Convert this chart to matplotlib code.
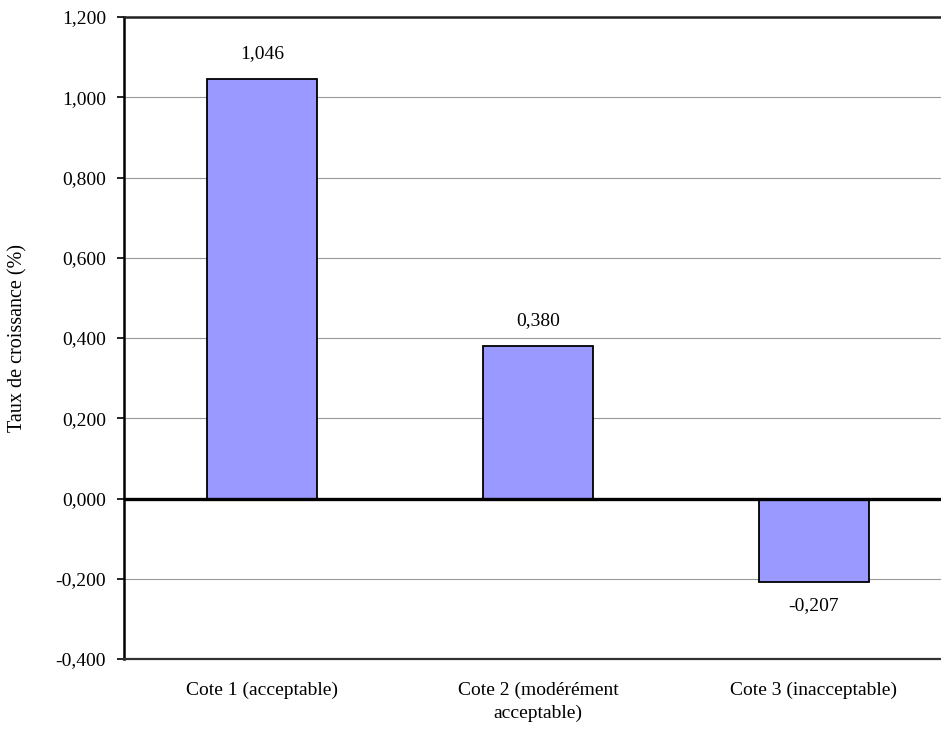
import matplotlib.pyplot as plt
from matplotlib.ticker import FuncFormatter

categories = ['Cote 1 (acceptable)', 'Cote 2 (modérément\nacceptable)', 'Cote 3 (inacceptable)']
taux = [1.046, 0.380, -0.207]
y_ticks = [-0.4, -0.2, 0.0, 0.2, 0.4, 0.6, 0.8, 1.0, 1.2]

plt.rcParams['font.family'] = ['Liberation Serif', 'DejaVu Serif']

def virgule(v, pos=None):
    return '{:.3f}'.format(v).replace('.', ',')

fig = plt.figure(figsize=(9.41, 7.33), dpi=100)
ax = fig.add_axes([124 / 941, 74 / 733, 828 / 941, 642 / 733])

x = range(len(categories))
ax.bar(x, taux, width=0.4, color='#9999ff', edgecolor='black', linewidth=1.3, zorder=3)

for i, v in enumerate(taux):
    if v >= 0:
        ax.annotate(virgule(v), (i, v), xytext=(0, 12), textcoords='offset points',
                    ha='center', va='bottom', fontsize=14)
    else:
        ax.annotate(virgule(v), (i, v), xytext=(0, -11), textcoords='offset points',
                    ha='center', va='top', fontsize=14)

ax.axhline(0, color='black', linewidth=2.4, zorder=4)
ax.set_xlim(-0.5, 2.5)
ax.set_ylim(-0.4, 1.2)
ax.set_yticks(y_ticks)
ax.yaxis.set_major_formatter(FuncFormatter(virgule))
ax.yaxis.grid(True, color='#999999', linewidth=0.8, zorder=0)
ax.set_xticks(list(x))
ax.set_xticklabels(categories, fontsize=14, linespacing=1.5)
ax.tick_params(axis='x', length=0, pad=16)
ax.tick_params(axis='y', labelsize=14, length=5, width=1.2, pad=8)

ax.spines['left'].set_linewidth(1.8)
ax.spines['top'].set_linewidth(1.8)
ax.spines['top'].set_color('#222222')
ax.spines['bottom'].set_linewidth(1.6)
ax.spines['bottom'].set_color('#333333')

ax.set_ylabel('Taux de croissance (%)', fontsize=14.5)
ax.yaxis.set_label_coords(-0.117, 0.5)

plt.savefig('out.png', dpi=100)
